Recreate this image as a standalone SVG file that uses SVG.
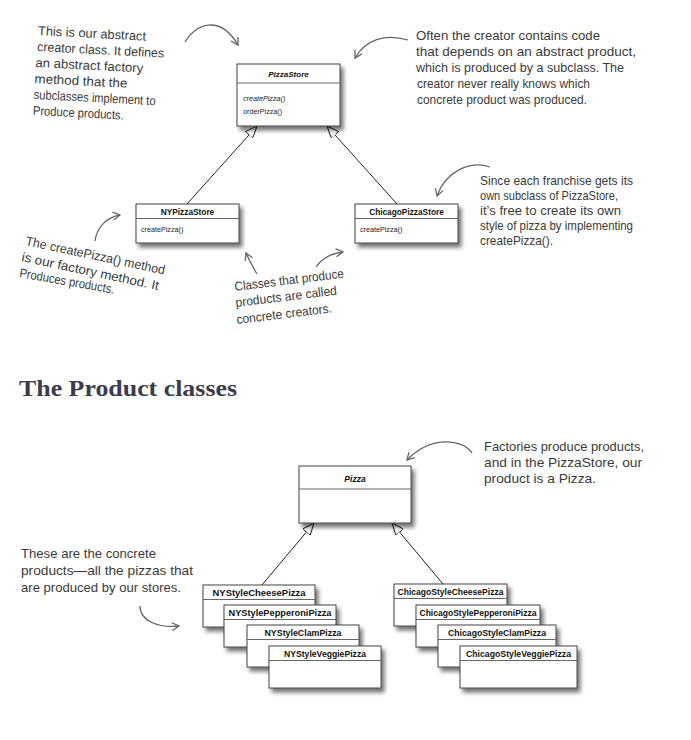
<svg xmlns="http://www.w3.org/2000/svg" width="691" height="740" viewBox="0 0 691 740">
<defs>
<style>
.box{fill:#fff;stroke:#444;stroke-width:1;filter:url(#sh)}
.dv{stroke:#666;stroke-width:1}
.t{font-family:"Liberation Sans",Arial,sans-serif;font-weight:bold;fill:#111;text-anchor:middle}
.m{font-family:"Liberation Sans",Arial,sans-serif;font-size:7.2px;fill:#222}
.hw{font-family:"Liberation Sans",Arial,sans-serif;font-size:12.8px;fill:#3a3a3a}
.gen{stroke:#222;stroke-width:1;fill:none;marker-end:url(#tri)}
.cv{stroke:#666;stroke-width:1.3;fill:none;marker-end:url(#chev)}
.h{font-family:"Liberation Serif","DejaVu Serif",serif;font-weight:bold;font-size:24px;fill:#3c3c4c}
</style>
<filter id="sh" x="-10%" y="-10%" width="130%" height="150%">
<feDropShadow dx="3" dy="4" stdDeviation="2" flood-color="#000" flood-opacity="0.55"/>
</filter>
<marker id="tri" viewBox="0 0 12 10" refX="12" refY="5" markerWidth="12" markerHeight="10" markerUnits="userSpaceOnUse" orient="auto">
<path d="M0,0 L12,5 L0,10 z" fill="#fff" stroke="#222" stroke-width="1"/>
</marker>
<marker id="chev" viewBox="0 0 10 10" refX="8" refY="5" markerWidth="10" markerHeight="10" markerUnits="userSpaceOnUse" orient="auto">
<path d="M1,1 L8,5 L1,9" fill="none" stroke="#666" stroke-width="1.3"/>
</marker>
</defs>
<rect width="691" height="740" fill="#fff"/>

<g id="connectors">
<g id="generalization">
<path class="gen" d="M187 204 L257 126"/>
<path class="gen" d="M397 204 L327 126"/>
<path class="gen" d="M262 585 L314 523"/>
<path class="gen" d="M443 584 L392 523"/>
</g>
<g id="note-arrows">
<path class="cv" d="M185 42 C195 24 220 14 238 45"/>
<path class="cv" d="M408 40 C385 33 365 40 355 58"/>
<path class="cv" d="M95 241 C97 226 108 217 120 215"/>
<path class="cv" d="M257 274 Q250 262 246 253"/>
<path class="cv" d="M316 267 Q325 254 343 252"/>
<path class="cv" d="M490 167 C470 160 445 172 437 196"/>
<path class="cv" d="M472 453 C462 438 430 436 407 460"/>
<path class="cv" d="M140 606 C140 622 160 628 179 626"/>
</g>
</g>

<g id="PizzaStore">
<rect class="box" x="237" y="64" width="103" height="62"/>
<line class="dv" x1="237" y1="83" x2="340" y2="83"/>
<text class="t" x="288.5" y="77" font-size="8" font-style="italic">PizzaStore</text>
<text class="m" x="243" y="101" font-style="italic">createPizza()</text>
<text class="m" x="243" y="114">orderPizza()</text>
</g>

<g id="NYPizzaStore">
<rect class="box" x="136" y="204" width="103" height="39"/>
<line class="dv" x1="136" y1="218.5" x2="239" y2="218.5"/>
<text class="t" x="187.5" y="214.5" font-size="8.3">NYPizzaStore</text>
<text class="m" x="141" y="232">createPizza()</text>
</g>

<g id="ChicagoPizzaStore">
<rect class="box" x="355" y="204" width="103" height="39"/>
<line class="dv" x1="355" y1="218.5" x2="458" y2="218.5"/>
<text class="t" x="406.5" y="214.5" font-size="8.3">ChicagoPizzaStore</text>
<text class="m" x="360" y="232">createPizza()</text>
</g>

<g id="note-abstract-creator" transform="rotate(3 38 32)">
<text class="hw" x="38" y="35" textLength="108" lengthAdjust="spacingAndGlyphs">This is our abstract</text>
<text class="hw" x="38" y="51" textLength="127" lengthAdjust="spacingAndGlyphs">creator class. It defines</text>
<text class="hw" x="37" y="67" textLength="108" lengthAdjust="spacingAndGlyphs">an abstract factory</text>
<text class="hw" x="37" y="83" textLength="93" lengthAdjust="spacingAndGlyphs">method that the</text>
<text class="hw" x="37" y="99" textLength="122" lengthAdjust="spacingAndGlyphs">subclasses implement to</text>
<text class="hw" x="37" y="115" textLength="91" lengthAdjust="spacingAndGlyphs">Produce products.</text>
</g>

<g id="note-creator-code">
<text class="hw" x="416" y="40" textLength="184" lengthAdjust="spacingAndGlyphs">Often the creator contains code</text>
<text class="hw" x="416" y="56" textLength="220" lengthAdjust="spacingAndGlyphs">that depends on an abstract product,</text>
<text class="hw" x="416" y="72" textLength="208" lengthAdjust="spacingAndGlyphs">which is produced by a subclass. The</text>
<text class="hw" x="417" y="88" textLength="173" lengthAdjust="spacingAndGlyphs">creator never really knows which</text>
<text class="hw" x="417" y="104" textLength="170" lengthAdjust="spacingAndGlyphs">concrete product was produced.</text>
</g>

<g id="note-factory-method">
<text class="hw" transform="translate(25 245) rotate(12)" textLength="142" lengthAdjust="spacingAndGlyphs">The createPizza() method</text>
<text class="hw" transform="translate(21 261) rotate(12)" textLength="140" lengthAdjust="spacingAndGlyphs">is our factory method. It</text>
<text class="hw" transform="translate(19 277) rotate(10)" textLength="96" lengthAdjust="spacingAndGlyphs">Produces products.</text>
</g>

<g id="note-concrete-creators">
<text class="hw" transform="translate(235 291) rotate(-7)" textLength="110" lengthAdjust="spacingAndGlyphs">Classes that produce</text>
<text class="hw" transform="translate(236 307) rotate(-7)" textLength="102" lengthAdjust="spacingAndGlyphs">products are called</text>
<text class="hw" transform="translate(237 324) rotate(-7)" textLength="96" lengthAdjust="spacingAndGlyphs">concrete creators.</text>
</g>

<g id="note-franchise">
<text class="hw" x="480" y="185" textLength="153" lengthAdjust="spacingAndGlyphs">Since each franchise gets its</text>
<text class="hw" x="480" y="200" textLength="138" lengthAdjust="spacingAndGlyphs">own subclass of PizzaStore,</text>
<text class="hw" x="480" y="215" textLength="141" lengthAdjust="spacingAndGlyphs">it’s free to create its own</text>
<text class="hw" x="480" y="230" textLength="153" lengthAdjust="spacingAndGlyphs">style of pizza by implementing</text>
<text class="hw" x="480" y="245" textLength="73" lengthAdjust="spacingAndGlyphs">createPizza().</text>
</g>

<text class="h" x="19" y="396" textLength="218" lengthAdjust="spacingAndGlyphs">The Product classes</text>

<g id="Pizza">
<rect class="box" x="299" y="466" width="112" height="57"/>
<line class="dv" x1="299" y1="489" x2="411" y2="489"/>
<text class="t" x="355" y="482" font-size="8.5" font-style="italic">Pizza</text>
</g>

<g id="note-factories">
<text class="hw" x="484" y="451" textLength="160" lengthAdjust="spacingAndGlyphs">Factories produce products,</text>
<text class="hw" x="484" y="467" textLength="158" lengthAdjust="spacingAndGlyphs">and in the PizzaStore, our</text>
<text class="hw" x="484" y="483" textLength="112" lengthAdjust="spacingAndGlyphs">product is a Pizza.</text>
</g>

<g id="note-concrete-products">
<text class="hw" x="21" y="558" textLength="135" lengthAdjust="spacingAndGlyphs">These are the concrete</text>
<text class="hw" x="21" y="575" textLength="172" lengthAdjust="spacingAndGlyphs">products—all the pizzas that</text>
<text class="hw" x="21" y="592" textLength="160" lengthAdjust="spacingAndGlyphs">are produced by our stores.</text>
</g>

<g id="NYStyleCheesePizza">
<rect class="box" x="203" y="585" width="112" height="42"/>
<line class="dv" x1="203" y1="599.5" x2="315" y2="599.5"/>
<text class="t" x="259" y="595.5" font-size="9" textLength="93" lengthAdjust="spacingAndGlyphs">NYStyleCheesePizza</text>
</g>
<g id="NYStylePepperoniPizza">
<rect class="box" x="224" y="605" width="112" height="42"/>
<line class="dv" x1="224" y1="619.5" x2="336" y2="619.5"/>
<text class="t" x="280" y="615.5" font-size="9" textLength="103" lengthAdjust="spacingAndGlyphs">NYStylePepperoniPizza</text>
</g>
<g id="NYStyleClamPizza">
<rect class="box" x="247" y="625" width="112" height="42"/>
<line class="dv" x1="247" y1="639.5" x2="359" y2="639.5"/>
<text class="t" x="303" y="635.5" font-size="9" textLength="77" lengthAdjust="spacingAndGlyphs">NYStyleClamPizza</text>
</g>
<g id="NYStyleVeggiePizza">
<rect class="box" x="269" y="646" width="112" height="42"/>
<line class="dv" x1="269" y1="660.5" x2="381" y2="660.5"/>
<text class="t" x="325" y="656.5" font-size="9" textLength="82" lengthAdjust="spacingAndGlyphs">NYStyleVeggiePizza</text>
</g>

<g id="ChicagoStyleCheesePizza">
<rect class="box" x="394" y="584" width="113" height="42"/>
<line class="dv" x1="394" y1="598.5" x2="507" y2="598.5"/>
<text class="t" x="450.5" y="594.5" font-size="9" textLength="106" lengthAdjust="spacingAndGlyphs">ChicagoStyleCheesePizza</text>
</g>
<g id="ChicagoStylePepperoniPizza">
<rect class="box" x="416" y="605" width="124" height="42"/>
<line class="dv" x1="416" y1="619.5" x2="540" y2="619.5"/>
<text class="t" x="478" y="615.5" font-size="9" textLength="117" lengthAdjust="spacingAndGlyphs">ChicagoStylePepperoniPizza</text>
</g>
<g id="ChicagoStyleClamPizza">
<rect class="box" x="438" y="625" width="118" height="42"/>
<line class="dv" x1="438" y1="639.5" x2="556" y2="639.5"/>
<text class="t" x="497" y="635.5" font-size="9" textLength="98" lengthAdjust="spacingAndGlyphs">ChicagoStyleClamPizza</text>
</g>
<g id="ChicagoStyleVeggiePizza">
<rect class="box" x="460" y="646" width="117" height="42"/>
<line class="dv" x1="460" y1="660.5" x2="577" y2="660.5"/>
<text class="t" x="518.5" y="656.5" font-size="9" textLength="105" lengthAdjust="spacingAndGlyphs">ChicagoStyleVeggiePizza</text>
</g>
</svg>
